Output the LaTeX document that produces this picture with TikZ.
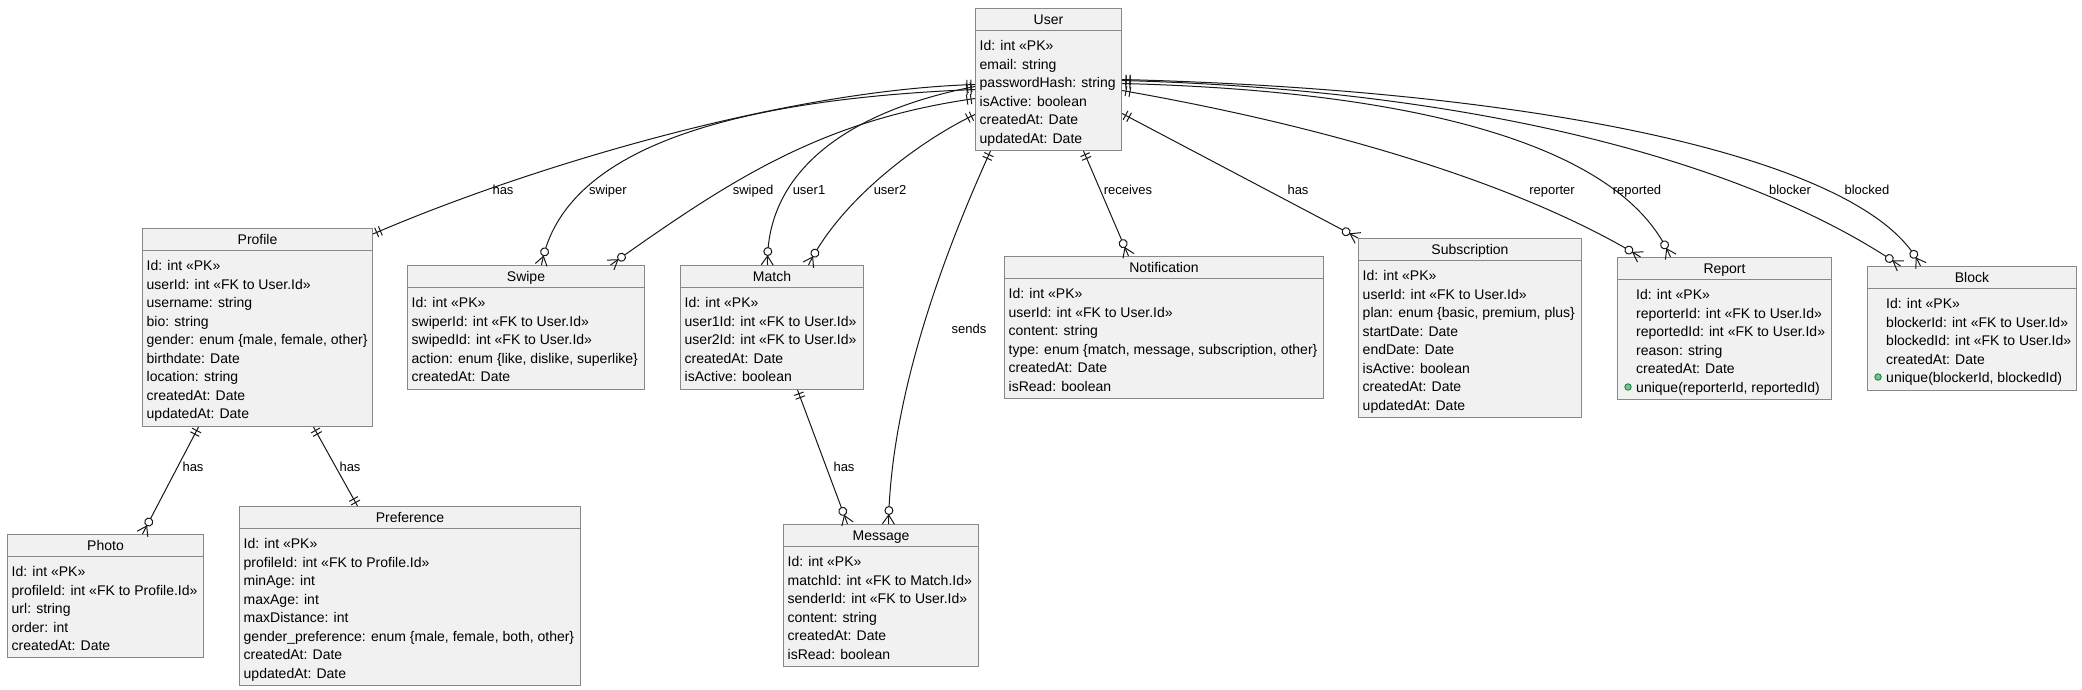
\documentclass[tikz,border=0pt]{standalone}
\usepackage{fontspec}
\setmainfont{Liberation Sans}
\usetikzlibrary{decorations.markings}

\definecolor{boxfill}{HTML}{F1F1F1}
\definecolor{boxgray}{HTML}{888888}
\definecolor{relcol}{HTML}{181818}
\definecolor{dotfill}{HTML}{84BE84}
\definecolor{dotline}{HTML}{038048}

\tikzset{
  entity/.style={draw=boxgray, fill=boxfill, line width=1pt, inner sep=0pt, anchor=north west},
  etitle/.style={font=\fontsize{14}{17}\selectfont, inner sep=0pt, anchor=north,
    minimum height=22pt, text height=10pt, text depth=0pt},
  eattr/.style={font=\fontsize{14}{18.5}\selectfont, align=left, inner sep=0pt, anchor=north west,
    execute at begin node={\rule{0pt}{10.5pt}}},
  hline/.style={draw=boxgray, line width=1pt},
  rel/.style={draw=relcol, line width=1pt},
  rlabel/.style={font=\fontsize{13}{15}\selectfont, inner sep=0pt, text height=9pt, text depth=0pt},
  udot/.style={circle, draw=dotline, fill=dotfill, minimum size=6.5pt, inner sep=0pt, line width=0.8pt},
  onestart/.style={postaction={decorate, decoration={markings,
      mark=at position 4pt with {\draw[rel] (0pt,-5pt) -- (0pt,5pt);},
      mark=at position 8pt with {\draw[rel] (0pt,-5pt) -- (0pt,5pt);}}}},
  oneend/.style={postaction={decorate, decoration={markings,
      mark=at position -8pt with {\draw[rel] (0pt,-5pt) -- (0pt,5pt);},
      mark=at position -4pt with {\draw[rel] (0pt,-5pt) -- (0pt,5pt);}}}},
  manyend/.style={postaction={decorate, decoration={markings,
      mark=at position -13.5pt with {\draw[rel, fill=white] (0pt,0pt) circle[radius=4pt];},
      mark=at position -9pt with {\draw[rel] (0pt,0pt) -- (9pt,6pt) (0pt,0pt) -- (9pt,-6pt);}}}}
}

\begin{document}
\begin{tikzpicture}[x=1pt, y=-1pt]
\fill[white] (0,0) rectangle (2082,690);
\useasboundingbox (0,0) rectangle (2082,690);

% User
\node[entity, minimum width=146pt, minimum height=142pt] (user) at (975,8) {};
\node[etitle] (usert) at (user.north) {User};
\draw[hline] (user.west |- usert.south) -- (user.east |- usert.south);
\node[eattr] (usera) at ([shift={(4.5pt,-32.5pt)}]user.north west) {Id: int «PK»\\email: string\\passwordHash: string\\isActive: boolean\\createdAt: Date\\updatedAt: Date};

% Profile
\node[entity, minimum width=230pt, minimum height=198pt] (profile) at (142,228) {};
\node[etitle] (profilet) at (profile.north) {Profile};
\draw[hline] (profile.west |- profilet.south) -- (profile.east |- profilet.south);
\node[eattr] (profilea) at ([shift={(4.5pt,-32.5pt)}]profile.north west) {Id: int «PK»\\userId: int «FK to User.Id»\\username: string\\bio: string\\gender: enum \{male, female, other\}\\birthdate: Date\\location: string\\createdAt: Date\\updatedAt: Date};

% Swipe
\node[entity, minimum width=237pt, minimum height=124pt] (swipe) at (407,265) {};
\node[etitle] (swipet) at (swipe.north) {Swipe};
\draw[hline] (swipe.west |- swipet.south) -- (swipe.east |- swipet.south);
\node[eattr] (swipea) at ([shift={(4.5pt,-32.5pt)}]swipe.north west) {Id: int «PK»\\swiperId: int «FK to User.Id»\\swipedId: int «FK to User.Id»\\action: enum \{like, dislike, superlike\}\\createdAt: Date};

% Match
\node[entity, minimum width=183pt, minimum height=124pt] (match) at (680,265) {};
\node[etitle] (matcht) at (match.north) {Match};
\draw[hline] (match.west |- matcht.south) -- (match.east |- matcht.south);
\node[eattr] (matcha) at ([shift={(4.5pt,-32.5pt)}]match.north west) {Id: int «PK»\\user1Id: int «FK to User.Id»\\user2Id: int «FK to User.Id»\\createdAt: Date\\isActive: boolean};

% Photo
\node[entity, minimum width=196pt, minimum height=123pt] (photo) at (7,534) {};
\node[etitle] (photot) at (photo.north) {Photo};
\draw[hline] (photo.west |- photot.south) -- (photo.east |- photot.south);
\node[eattr] (photoa) at ([shift={(4.5pt,-32.5pt)}]photo.north west) {Id: int «PK»\\profileId: int «FK to Profile.Id»\\url: string\\order: int\\createdAt: Date};

% Preference
\node[entity, minimum width=341pt, minimum height=179pt] (pref) at (239,506) {};
\node[etitle] (preft) at (pref.north) {Preference};
\draw[hline] (pref.west |- preft.south) -- (pref.east |- preft.south);
\node[eattr] (prefa) at ([shift={(4.5pt,-32.5pt)}]pref.north west) {Id: int «PK»\\profileId: int «FK to Profile.Id»\\minAge: int\\maxAge: int\\maxDistance: int\\gender\_preference: enum \{male, female, both, other\}\\createdAt: Date\\updatedAt: Date};

% Message
\node[entity, minimum width=195pt, minimum height=142pt] (message) at (783,524) {};
\node[etitle] (messaget) at (message.north) {Message};
\draw[hline] (message.west |- messaget.south) -- (message.east |- messaget.south);
\node[eattr] (messagea) at ([shift={(4.5pt,-32.5pt)}]message.north west) {Id: int «PK»\\matchId: int «FK to Match.Id»\\senderId: int «FK to User.Id»\\content: string\\createdAt: Date\\isRead: boolean};

% Notification
\node[entity, minimum width=319pt, minimum height=142pt] (notif) at (1004,256) {};
\node[etitle] (notift) at (notif.north) {Notification};
\draw[hline] (notif.west |- notift.south) -- (notif.east |- notift.south);
\node[eattr] (notifa) at ([shift={(4.5pt,-32.5pt)}]notif.north west) {Id: int «PK»\\userId: int «FK to User.Id»\\content: string\\type: enum \{match, message, subscription, other\}\\createdAt: Date\\isRead: boolean};

% Subscription
\node[entity, minimum width=223pt, minimum height=179pt] (subs) at (1358,238) {};
\node[etitle] (subst) at (subs.north) {Subscription};
\draw[hline] (subs.west |- subst.south) -- (subs.east |- subst.south);
\node[eattr] (subsa) at ([shift={(4.5pt,-32.5pt)}]subs.north west) {Id: int «PK»\\userId: int «FK to User.Id»\\plan: enum \{basic, premium, plus\}\\startDate: Date\\endDate: Date\\isActive: boolean\\createdAt: Date\\updatedAt: Date};

% Report
\node[entity, minimum width=214pt, minimum height=142pt] (report) at (1617,257) {};
\node[etitle] (reportt) at (report.north) {Report};
\draw[hline] (report.west |- reportt.south) -- (report.east |- reportt.south);
\node[eattr] (reporta) at ([shift={(19pt,-32.5pt)}]report.north west) {Id: int «PK»\\reporterId: int «FK to User.Id»\\reportedId: int «FK to User.Id»\\reason: string\\createdAt: Date\\unique(reporterId, reportedId)};
\node[udot] (reportdot) at (1628,387) {};

% Block
\node[entity, minimum width=209pt, minimum height=124pt] (block) at (1867,266) {};
\node[etitle] (blockt) at (block.north) {Block};
\draw[hline] (block.west |- blockt.south) -- (block.east |- blockt.south);
\node[eattr] (blocka) at ([shift={(19pt,-32.5pt)}]block.north west) {Id: int «PK»\\blockerId: int «FK to User.Id»\\blockedId: int «FK to User.Id»\\createdAt: Date\\unique(blockerId, blockedId)};
\node[udot] (blockdot) at (1878,377) {};

% Relations from User (left side)
\draw[rel, onestart, oneend] ([yshift=-5pt]user.west) .. controls +(-195,6) and +(148,-64) .. ([yshift=-6pt]profile.north east);
\draw[rel, onestart, manyend] ([yshift=-10pt]user.west) .. controls +(-275,11) and +(19,-105) .. ([xshift=15.5pt]swipe.north);
\draw[rel, onestart, manyend] ([yshift=-19pt]user.west) .. controls +(-155,22) and +(120,-85) .. ([xshift=84.5pt]swipe.north);
\draw[rel, onestart, manyend] ([yshift=-7pt]user.west) .. controls +(-125,24) and +(-2,-95) .. ([xshift=-4.5pt]match.north);
\draw[rel, onestart, manyend] ([yshift=-35pt]user.west) .. controls +(-55,26) and +(32,-65) .. ([xshift=36.5pt]match.north);

% Relations from User (bottom)
\draw[rel, onestart, manyend] ([xshift=-58pt]user.south) .. controls +(-50,110) and +(2,-124) .. ([xshift=7.5pt]message.north);
\draw[rel, onestart, manyend] ([xshift=35pt]user.south) -- ([xshift=-35.5pt]notif.north);

% Relations from User (right side)
\draw[rel, onestart, manyend] ([yshift=-34pt]user.east) -- (subs.north west);
\draw[rel, onestart, manyend] ([yshift=-11pt]user.east) .. controls +(228,40) and +(-110,-67) .. ([xshift=-84pt]report.north);
\draw[rel, onestart, manyend] ([yshift=-4pt]user.east) .. controls +(278,7) and +(-50,-117) .. ([xshift=-54pt]report.north);
\draw[rel, onestart, manyend] ([yshift=-1pt]user.east) .. controls +(378,10) and +(-140,-96) .. ([xshift=-71.5pt]block.north);
\draw[rel, onestart, manyend] (user.east) .. controls +(428,11) and +(-50,-106) .. ([xshift=-51.5pt]block.north);

% Other relations
\draw[rel, onestart, manyend] ([xshift=25.5pt]match.south) -- ([xshift=-33.5pt]message.north);
\draw[rel, onestart, manyend] ([xshift=-59pt]profile.south) -- ([xshift=37pt]photo.north);
\draw[rel, onestart, oneend] ([xshift=56pt]profile.south) -- ([xshift=-52.5pt]pref.north);

% Labels
\node[rlabel] (lhasprofile) at (503,190) {has};
\node[rlabel] (lswiper) at (608,190) {swiper};
\node[rlabel] (lswiped) at (753,190) {swiped};
\node[rlabel] (luser1) at (809,190) {user1};
\node[rlabel] (luser2) at (890,190) {user2};
\node[rlabel] (lsends) at (969,329) {sends};
\node[rlabel] (lreceives) at (1128,190) {receives};
\node[rlabel] (lhassubs) at (1298,190) {has};
\node[rlabel] (lreporter) at (1552,190) {reporter};
\node[rlabel] (lreported) at (1637,190) {reported};
\node[rlabel] (lblocker) at (1790,190) {blocker};
\node[rlabel] (lblocked) at (1867,190) {blocked};
\node[rlabel] (lhasmsg) at (844,467) {has};
\node[rlabel] (lhasphoto) at (193,467) {has};
\node[rlabel] (lhaspref) at (350,467) {has};
\end{tikzpicture}
\end{document}
